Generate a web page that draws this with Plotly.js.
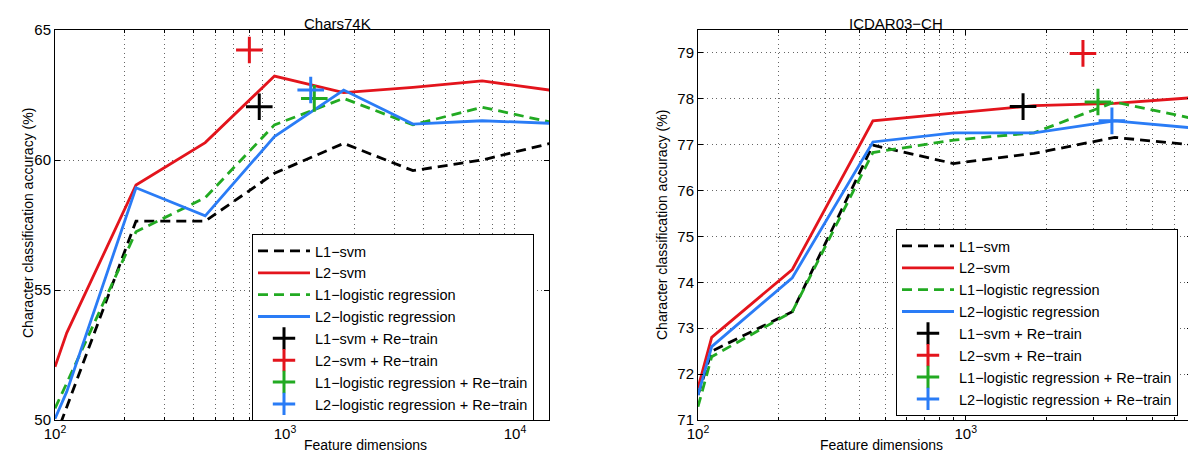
<!DOCTYPE html>
<html>
<head>
<meta charset="utf-8">
<script src="https://cdn.plot.ly/plotly-3.0.1.min.js"></script>
<style>
html,body{margin:0;padding:0;overflow:hidden;background:#fff;}
#chart{width:1200px;height:463px;}
</style>
</head>
<body>
<div id="chart"></div>
<script>
// ---- data: Chars74K ----
var dimsLeft = [100, 112.5, 225, 450, 900, 1800, 3600, 7200, 14400];
var l1svmLeft = [49.3, 50.5, 57.65, 57.65, 59.49, 60.64, 59.59, 60.0, 60.65];
var l2svmLeft = [52.05, 53.35, 59.04, 60.67, 63.23, 62.59, 62.79, 63.04, 62.68];
var l1lrLeft  = [50.45, 51.42, 57.24, 58.55, 61.35, 62.37, 61.35, 62.03, 61.45];
var l2lrLeft  = [50.05, 51.09, 58.93, 57.85, 60.9, 62.69, 61.38, 61.51, 61.41];
var retrainDimsLeft = [773, 700, 1341, 1294];
var retrainAccLeft  = [62.05, 64.23, 62.37, 62.69];

// ---- data: ICDAR03-CH ----
var dimsRight = [100, 112.5, 225, 450, 900, 1800, 3600, 7200];
var l1svmRight = [71.55, 72.5, 73.36, 76.99, 76.59, 76.81, 77.16, 76.99];
var l2svmRight = [71.70, 72.80, 74.28, 77.52, 77.69, 77.85, 77.9, 78.03];
var l1lrRight  = [71.29, 72.38, 73.36, 76.83, 77.1, 77.26, 77.93, 77.56];
var l2lrRight  = [71.54, 72.6, 74.1, 77.06, 77.26, 77.26, 77.52, 77.36];
var retrainDimsRight = [1637, 2740, 3117, 3515];
var retrainAccRight  = [77.83, 78.99, 77.93, 77.52];

var seriesNames = ['L1\u2212svm', 'L2\u2212svm', 'L1\u2212logistic regression', 'L2\u2212logistic regression'];
var retrainNames = ['L1\u2212svm + Re\u2212train', 'L2\u2212svm + Re\u2212train', 'L1\u2212logistic regression + Re\u2212train', 'L2\u2212logistic regression + Re\u2212train'];
var xTickVals = [100, 1000, 10000];
var xTickText = ['10<sup>2</sup>', '10<sup>3</sup>', '10<sup>4</sup>'];
var xMinorVals = [200,300,400,500,600,700,800,900,2000,3000,4000,5000,6000,7000,8000,9000];
var yTickLeft = [50, 55, 60, 65];
var yTickRight = [71, 72, 73, 74, 75, 76, 77, 78, 79];

var colors = ['#000000', '#e3141c', '#22aa22', '#2a7cf6'];
var dashes = ['10px,6px', 'solid', '10px,6px', 'solid'];

var W = 1200;
var FONT = 'Liberation Sans, Arial, Helvetica, sans-serif';

function buildTraces(xs, ys, rx, ry, xa, ya, leg) {
  var t = [];
  for (var i = 0; i < 4; i++) {
    t.push({x: xs, y: ys[i], xaxis: xa, yaxis: ya, legend: leg, type: 'scatter', mode: 'lines',
      name: seriesNames[i], cliponaxis: true,
      line: {color: colors[i], width: 2.8, dash: dashes[i]}});
  }
  for (var j = 0; j < 4; j++) {
    t.push({x: [rx[j]], y: [ry[j]], xaxis: xa, yaxis: ya, legend: leg, type: 'scatter', mode: 'markers',
      name: retrainNames[j],
      marker: {symbol: 'cross-thin', size: 19, color: colors[j], line: {color: colors[j], width: 3}}});
  }
  return t;
}

var traces = buildTraces(dimsLeft, [l1svmLeft, l2svmLeft, l1lrLeft, l2lrLeft], retrainDimsLeft, retrainAccLeft, 'x', 'y', 'legend')
  .concat(buildTraces(dimsRight, [l1svmRight, l2svmRight, l1lrRight, l2lrRight], retrainDimsRight, retrainAccRight, 'x2', 'y2', 'legend2'));

var gridCol = '#666666';
var gridDash = '1px,3.5px';
function xAxis(domain, range, anchor) {
  return {type: 'log', domain: domain, range: range, anchor: anchor,
    tickmode: 'array', tickvals: xTickVals, ticktext: xTickText,
    ticks: 'inside', ticklen: 5, tickcolor: '#000', tickwidth: 1,
    showline: true, linecolor: '#000', linewidth: 1, mirror: 'ticks',
    showgrid: true, gridcolor: gridCol, griddash: gridDash, gridwidth: 1,
    minor: {tickmode: 'array', tickvals: xMinorVals, ticks: 'inside', ticklen: 3, tickcolor: '#000',
      showgrid: true, gridcolor: gridCol, griddash: gridDash, gridwidth: 1},
    zeroline: false, tickfont: {family: FONT, size: 15, color: '#000'}, fixedrange: true};
}
function yAxis(range, vals, anchor) {
  return {range: range, anchor: anchor, tickmode: 'array', tickvals: vals,
    ticks: 'inside', ticklen: 5, tickcolor: '#000', tickwidth: 1,
    showline: true, linecolor: '#000', linewidth: 1, mirror: 'ticks',
    showgrid: true, gridcolor: gridCol, griddash: gridDash, gridwidth: 1,
    zeroline: false, tickfont: {family: FONT, size: 15, color: '#000'}, fixedrange: true};
}

function px(x) { return x / W; }
function py(y) { return (420 - y) / 390; }

var legendCommon = {bgcolor: '#ffffff', bordercolor: '#000', borderwidth: 1, itemwidth: 52,
  font: {family: FONT, size: 14.5, color: '#000'}, xanchor: 'left', yanchor: 'top', tracegroupgap: 0};

var layout = {
  width: W, height: 463,
  margin: {l: 0, r: 0, t: 30, b: 43, pad: 0},
  paper_bgcolor: '#fff', plot_bgcolor: '#fff',
  showlegend: true,
  xaxis: xAxis([px(55), px(549)], [2, 4.148], 'y'),
  yaxis: yAxis([50, 65], yTickLeft, 'x'),
  xaxis2: xAxis([px(698), px(1192)], [2, 3.845], 'y2'),
  yaxis2: yAxis([71, 79.5], yTickRight, 'x2'),
  legend: Object.assign({x: px(252), y: py(234)}, legendCommon),
  legend2: Object.assign({x: px(896), y: py(229)}, legendCommon),
  annotations: [
    {text: 'Chars74K', x: px(302), y: py(13), xref: 'paper', yref: 'paper', showarrow: false, font: {family: FONT, size: 15, color: '#000'}},
    {text: 'ICDAR03\u2212CH', x: px(945), y: py(13), xref: 'paper', yref: 'paper', showarrow: false, font: {family: FONT, size: 15, color: '#000'}},
    {text: 'Feature dimensions', x: px(302), y: py(455), xref: 'paper', yref: 'paper', showarrow: false, font: {family: FONT, size: 14, color: '#000'}},
    {text: 'Feature dimensions', x: px(945), y: py(455), xref: 'paper', yref: 'paper', showarrow: false, font: {family: FONT, size: 14, color: '#000'}},
    {text: 'Character classification accuracy (%)', x: px(18), y: py(223), xref: 'paper', yref: 'paper', showarrow: false, textangle: -90, font: {family: FONT, size: 14, color: '#000'}},
    {text: 'Character classification accuracy (%)', x: px(662), y: py(225), xref: 'paper', yref: 'paper', showarrow: false, textangle: -90, font: {family: FONT, size: 14, color: '#000'}}
  ]
};

Plotly.newPlot('chart', traces, layout, {displayModeBar: false, staticPlot: true});
</script>
</body>
</html>
